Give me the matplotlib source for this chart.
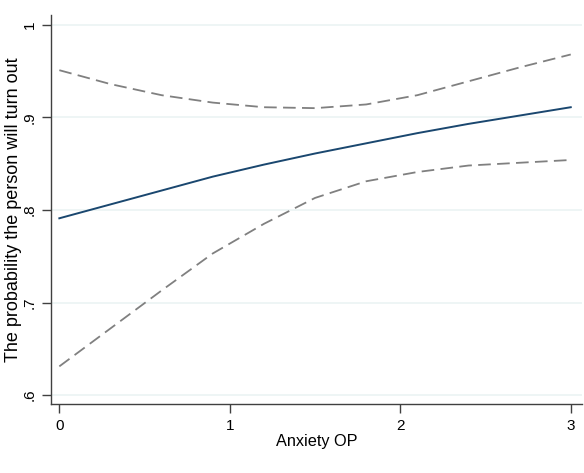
import matplotlib
matplotlib.use("Agg")
import matplotlib.pyplot as plt

plt.rcParams['font.family'] = ['Liberation Sans', 'DejaVu Sans']

anxiety = [0.0, 0.3, 0.6, 0.9, 1.2, 1.5, 1.8, 2.1, 2.4, 2.7, 3.0]
prob = [0.791, 0.806, 0.821, 0.836, 0.849, 0.861, 0.872, 0.883, 0.893, 0.902, 0.911]
upper = [0.951, 0.936, 0.924, 0.916, 0.911, 0.910, 0.914, 0.924, 0.939, 0.954, 0.968]
lower = [0.631, 0.672, 0.713, 0.753, 0.785, 0.813, 0.831, 0.841, 0.848, 0.851, 0.854]

xticks = [0, 1, 2, 3]
xticklabels = ["0", "1", "2", "3"]
yticks = [0.6, 0.7, 0.8, 0.9, 1.0]
yticklabels = [".6", ".7", ".8", ".9", "1"]

fig = plt.figure(figsize=(5.84, 4.73), dpi=100)
ax = fig.add_axes([0.0873, 0.1452, 0.9093, 0.8228])

for y in yticks:
    ax.axhline(y, color="#eaf2f3", lw=1.1, zorder=0)

ax.plot(anxiety, upper, color="#808080", lw=1.3, dashes=(7, 3.5))
ax.plot(anxiety, lower, color="#808080", lw=1.3, dashes=(7, 3.5))
ax.plot(anxiety, prob, color="#1a476f", lw=1.4)

ax.set_xlim(-0.049, 3.066)
ax.set_ylim(0.59, 1.0105)
ax.set_xticks(xticks)
ax.set_xticklabels(xticklabels, fontsize=11)
ax.set_yticks(yticks)
ax.set_yticklabels(yticklabels, fontsize=11, rotation=90, va="center")
ax.tick_params(axis="both", direction="out", length=6.5, width=1, color="#404040", pad=4)

for s in ["top", "right"]:
    ax.spines[s].set_visible(False)
for s in ["left", "bottom"]:
    ax.spines[s].set_color("#404040")
    ax.spines[s].set_linewidth(1)

ax.set_xlabel("Anxiety OP", fontsize=11.7, labelpad=1)
ax.set_ylabel("The probability the person will turn out", fontsize=13, labelpad=0.5)

fig.savefig("out.png", dpi=100)
